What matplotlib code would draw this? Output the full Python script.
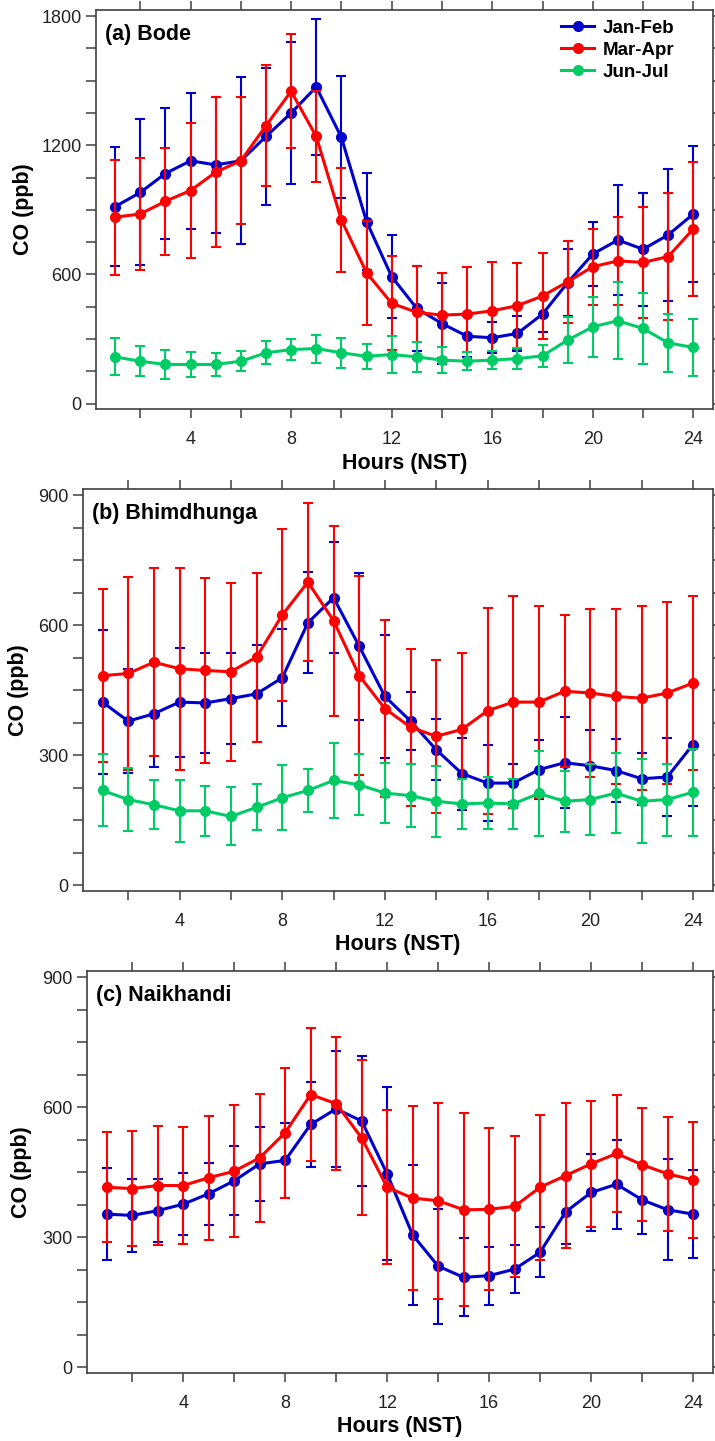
import matplotlib
matplotlib.use('Agg')
import matplotlib.pyplot as plt
from matplotlib.lines import Line2D
from matplotlib.ticker import MultipleLocator

plt.rcParams['font.family'] = ['Liberation Sans', 'DejaVu Sans']

hours = list(range(1, 25))
seasons = ['Jan-Feb', 'Mar-Apr', 'Jun-Jul']
colors = ['#0000CC', '#FF0000', '#00CC66']

# (a) Bode
bode_jf = [915, 981, 1069, 1128, 1109, 1128, 1241, 1350, 1471, 1237, 846, 590,
           442, 372, 313, 306, 326, 416, 562, 695, 760, 717, 784, 881]
bode_jf_sd = [275, 339, 305, 316, 315, 387, 316, 331, 315, 283, 224, 193,
              197, 187, 96, 72, 80, 82, 157, 150, 257, 262, 305, 316]
bode_ma = [866, 881, 940, 990, 1075, 1128, 1291, 1451, 1241, 853, 608, 466,
           424, 411, 416, 431, 455, 500, 566, 636, 663, 656, 683, 812]
bode_ma_sd = [268, 262, 248, 312, 348, 295, 280, 265, 212, 240, 242, 219,
              216, 197, 217, 228, 200, 200, 190, 177, 203, 256, 295, 310]
bode_jj = [217, 197, 182, 182, 182, 197, 236, 251, 256, 236, 220, 228,
           217, 202, 197, 202, 209, 222, 295, 357, 385, 349, 282, 261]
bode_jj_sd = [86, 70, 69, 60, 55, 47, 54, 47, 65, 69, 58, 87,
              69, 60, 43, 41, 49, 50, 107, 140, 178, 165, 133, 133]

# (b) Bhimdhunga
bhim_jf = [423, 379, 396, 423, 421, 431, 442, 479, 606, 664, 552, 436,
           379, 313, 258, 236, 236, 267, 283, 276, 265, 246, 250, 325]
bhim_jf_sd = [166, 120, 122, 126, 116, 105, 112, 112, 117, 128, 170, 142,
              67, 70, 83, 88, 43, 68, 105, 82, 72, 60, 89, 141]
bhim_ma = [484, 489, 515, 500, 496, 493, 527, 624, 700, 611, 484, 408,
           365, 344, 360, 403, 423, 423, 448, 444, 436, 432, 444, 467]
bhim_ma_sd = [200, 222, 217, 233, 214, 206, 195, 198, 182, 219, 230, 205,
              181, 177, 177, 238, 245, 221, 176, 193, 201, 213, 211, 200]
bhim_jj = [219, 198, 186, 172, 172, 159, 180, 202, 219, 242, 232, 213,
           207, 194, 188, 190, 188, 212, 194, 198, 213, 194, 198, 215]
bhim_jj_sd = [83, 72, 56, 72, 57, 67, 53, 75, 50, 86, 70, 70,
              72, 82, 57, 60, 58, 97, 70, 81, 93, 97, 83, 100]

# (c) Naikhandi
naik_jf = [353, 350, 361, 376, 400, 430, 469, 477, 560, 596, 568, 446,
           305, 233, 207, 211, 226, 265, 358, 403, 422, 386, 363, 353]
naik_jf_sd = [107, 85, 73, 72, 72, 80, 85, 86, 98, 134, 150, 200,
              162, 133, 90, 67, 55, 58, 75, 88, 103, 80, 117, 101]
naik_ma = [415, 412, 419, 419, 437, 452, 483, 541, 629, 608, 529, 415,
           390, 384, 363, 364, 371, 415, 442, 469, 493, 467, 446, 432]
naik_ma_sd = [127, 132, 137, 136, 143, 152, 148, 150, 154, 153, 179, 178,
              213, 226, 223, 187, 162, 168, 167, 146, 135, 131, 131, 133]

panels = [
    dict(title='(a) Bode', ymax=1800, rect=[0.1343, 0.7160, 0.8625, 0.2771],
         series=[(bode_jf, bode_jf_sd), (bode_ma, bode_ma_sd), (bode_jj, bode_jj_sd)],
         ylab_x=-0.118),
    dict(title='(b) Bhimdhunga', ymax=900, rect=[0.1161, 0.3817, 0.8807, 0.2788],
         series=[(bhim_jf, bhim_jf_sd), (bhim_ma, bhim_ma_sd), (bhim_jj, bhim_jj_sd)],
         ylab_x=-0.103),
    dict(title='(c) Naikhandi', ymax=900, rect=[0.1221, 0.0474, 0.8747, 0.2788],
         series=[(naik_jf, naik_jf_sd), (naik_ma, naik_ma_sd)],
         ylab_x=-0.105),
]

fig = plt.figure(figsize=(7.15, 14.41), dpi=100)
axis_col = '#404040'

for i, p in enumerate(panels):
    ax = fig.add_axes(p['rect'])
    for k, (vals, sd) in enumerate(p['series']):
        ax.errorbar(hours, vals, yerr=sd, color=colors[k], lw=2.2, marker='o',
                    ms=7, elinewidth=1.5, capsize=3.4, capthick=1.5,
                    zorder=2 + k)
    ym = p['ymax']
    ax.set_xlim(0.24, 24.77)
    ax.set_ylim(-0.0145 * ym, 1.016 * ym)
    ax.xaxis.set_major_locator(MultipleLocator(4))
    ax.xaxis.set_minor_locator(MultipleLocator(2))
    ax.yaxis.set_major_locator(MultipleLocator(ym / 3))
    ax.yaxis.set_minor_locator(MultipleLocator(ym / 12))
    ax.tick_params(axis='both', which='both', direction='out', color=axis_col,
                   width=1.1, top=True, right=True, labelcolor='#222222',
                   labelsize=13)
    ax.tick_params(axis='x', which='both', length=6.2, pad=9.5)
    ax.tick_params(axis='y', which='both', length=7, pad=3.4)
    for s in ax.spines.values():
        s.set_color(axis_col)
        s.set_linewidth(1.2)

    ax.set_xlabel('Hours (NST)', fontsize=15.5, fontweight='bold')
    ax.xaxis.set_label_coords(0.5, -54 / (p['rect'][3] * 1441))
    ax.xaxis.label.set_va('center')
    ax.set_ylabel('CO (ppb)', fontsize=15.5, fontweight='bold')
    ax.yaxis.set_label_coords(p['ylab_x'], 0.5)
    ax.yaxis.label.set_va('center')

    h_px = p['rect'][3] * 1441
    w_px = p['rect'][2] * 715
    ax.text(9 / w_px, 1 - 24.5 / h_px, p['title'], transform=ax.transAxes,
            fontsize=15.5, fontweight='bold', ha='left', va='center')

    if i == 0:
        handles = [Line2D([], [], color=c, lw=2.2, marker='o', ms=7) for c in colors]
        ax.legend(handles, seasons, loc='upper left', bbox_to_anchor=(0.7535, 0.975),
                  frameon=False, borderpad=0, borderaxespad=0, handlelength=1.8,
                  handletextpad=0.45, labelspacing=0.25,
                  prop={'size': 13.5, 'weight': 'bold'})

fig.savefig('out.png', dpi=100)
